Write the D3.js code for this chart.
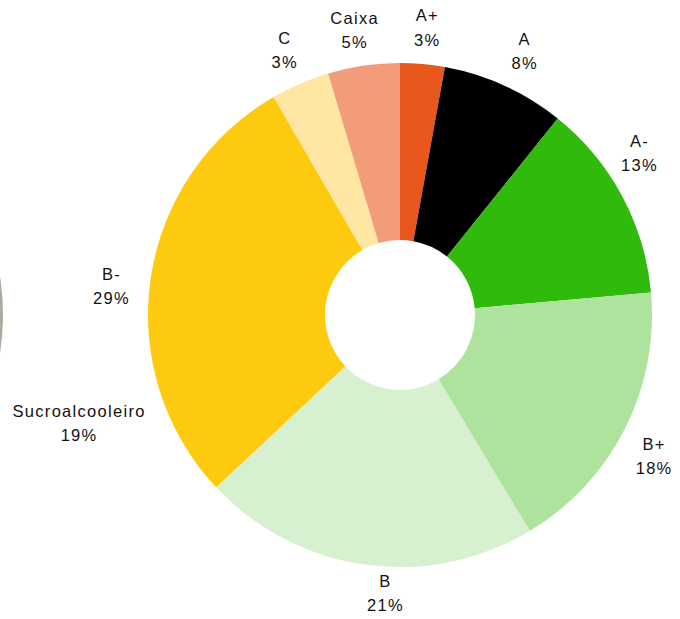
<!DOCTYPE html>
<html>
<head>
<meta charset="utf-8">
<script src="https://cdn.jsdelivr.net/npm/d3@7"></script>
<style>
  html, body { margin: 0; padding: 0; background: #ffffff; }
  svg text { font-family: "Liberation Sans", Arial, sans-serif; font-size: 16.5px; letter-spacing: 1.3px; fill: #111; }
</style>
</head>
<body>
<svg id="chart" width="680" height="619"></svg>
<script>
// ---- data ----
const categories = ["A+", "A", "A-", "B+", "B", "B-", "C", "Caixa"];
const sliceShares = [2.85, 7.9, 12.8, 17.8, 21.6, 28.6, 3.75, 4.6];
const labelPercents = [3, 8, 13, 18, 21, 29, 3, 5];
const sliceColors = ["#E8581C", "#000000", "#30BA0C", "#AEE39E", "#D6F0D0", "#FECA10", "#FFE6A2", "#F29C79"];

const otherCategory = ["Sucroalcooleiro"];
const otherPercent = [19];
const otherColor = ["#A8AE9F"];

// ---- layout ----
const W = 680, H = 619;
const cx = 400, cy = 315, outerR = 252, innerR = 75, labelR = 290;
const otherCx = -249, otherCy = 315, otherLabelAngle = 108, otherLabelR = 345;
const line1Y = -5, line2Y = 19.5;
// manual label nudges (degrees, radius) to mirror the reference's label placement
const nudge = { "A-": [-7.3, 0], "B": [-6, -13], "B-": [-3, 0], "A": [0, 3] };

const svg = d3.select("#chart");
const toRad = d => d * Math.PI / 180;

// Other (partially visible) pie on the left
const otherG = svg.append("g").attr("transform", `translate(${otherCx},${otherCy})`);
const half = otherPercent[0] / 100 * Math.PI;
otherG.append("path")
  .attr("d", d3.arc().innerRadius(0).outerRadius(outerR)
    .startAngle(toRad(otherLabelAngle) - half).endAngle(toRad(otherLabelAngle) + half)())
  .attr("fill", otherColor[0]);
const oa = toRad(otherLabelAngle);
const ot = otherG.append("text").attr("text-anchor", "middle")
  .attr("transform", `translate(${otherLabelR * Math.sin(oa)},${-otherLabelR * Math.cos(oa)})`);
ot.append("tspan").attr("x", 0).attr("y", line1Y).text(otherCategory[0]);
ot.append("tspan").attr("x", 0).attr("y", line2Y).text(otherPercent[0] + "%");

// Main donut
const g = svg.append("g").attr("transform", `translate(${cx},${cy})`);
const data = categories.map((c, i) => ({ cat: c, share: sliceShares[i], pct: labelPercents[i], color: sliceColors[i] }));
const pie = d3.pie().sort(null).value(d => d.share);
const arc = d3.arc().innerRadius(innerR).outerRadius(outerR);

g.selectAll("path.slice").data(pie(data)).join("path")
  .attr("class", "slice")
  .attr("d", arc)
  .attr("fill", d => d.data.color);

// labels positioned from the label percentages
const labelPie = d3.pie().sort(null).value(d => d.pct);
const lp = labelPie(data);
lp.forEach(d => {
  const n = nudge[d.data.cat] || [0, 0];
  const a = (d.startAngle + d.endAngle) / 2 + toRad(n[0]);
  const r = labelR + n[1];
  const t = g.append("text").attr("text-anchor", "middle")
    .attr("transform", `translate(${r * Math.sin(a)},${-r * Math.cos(a)})`);
  t.append("tspan").attr("x", 0).attr("y", line1Y).text(d.data.cat);
  t.append("tspan").attr("x", 0).attr("y", line2Y).text(d.data.pct + "%");
});
</script>
</body>
</html>
